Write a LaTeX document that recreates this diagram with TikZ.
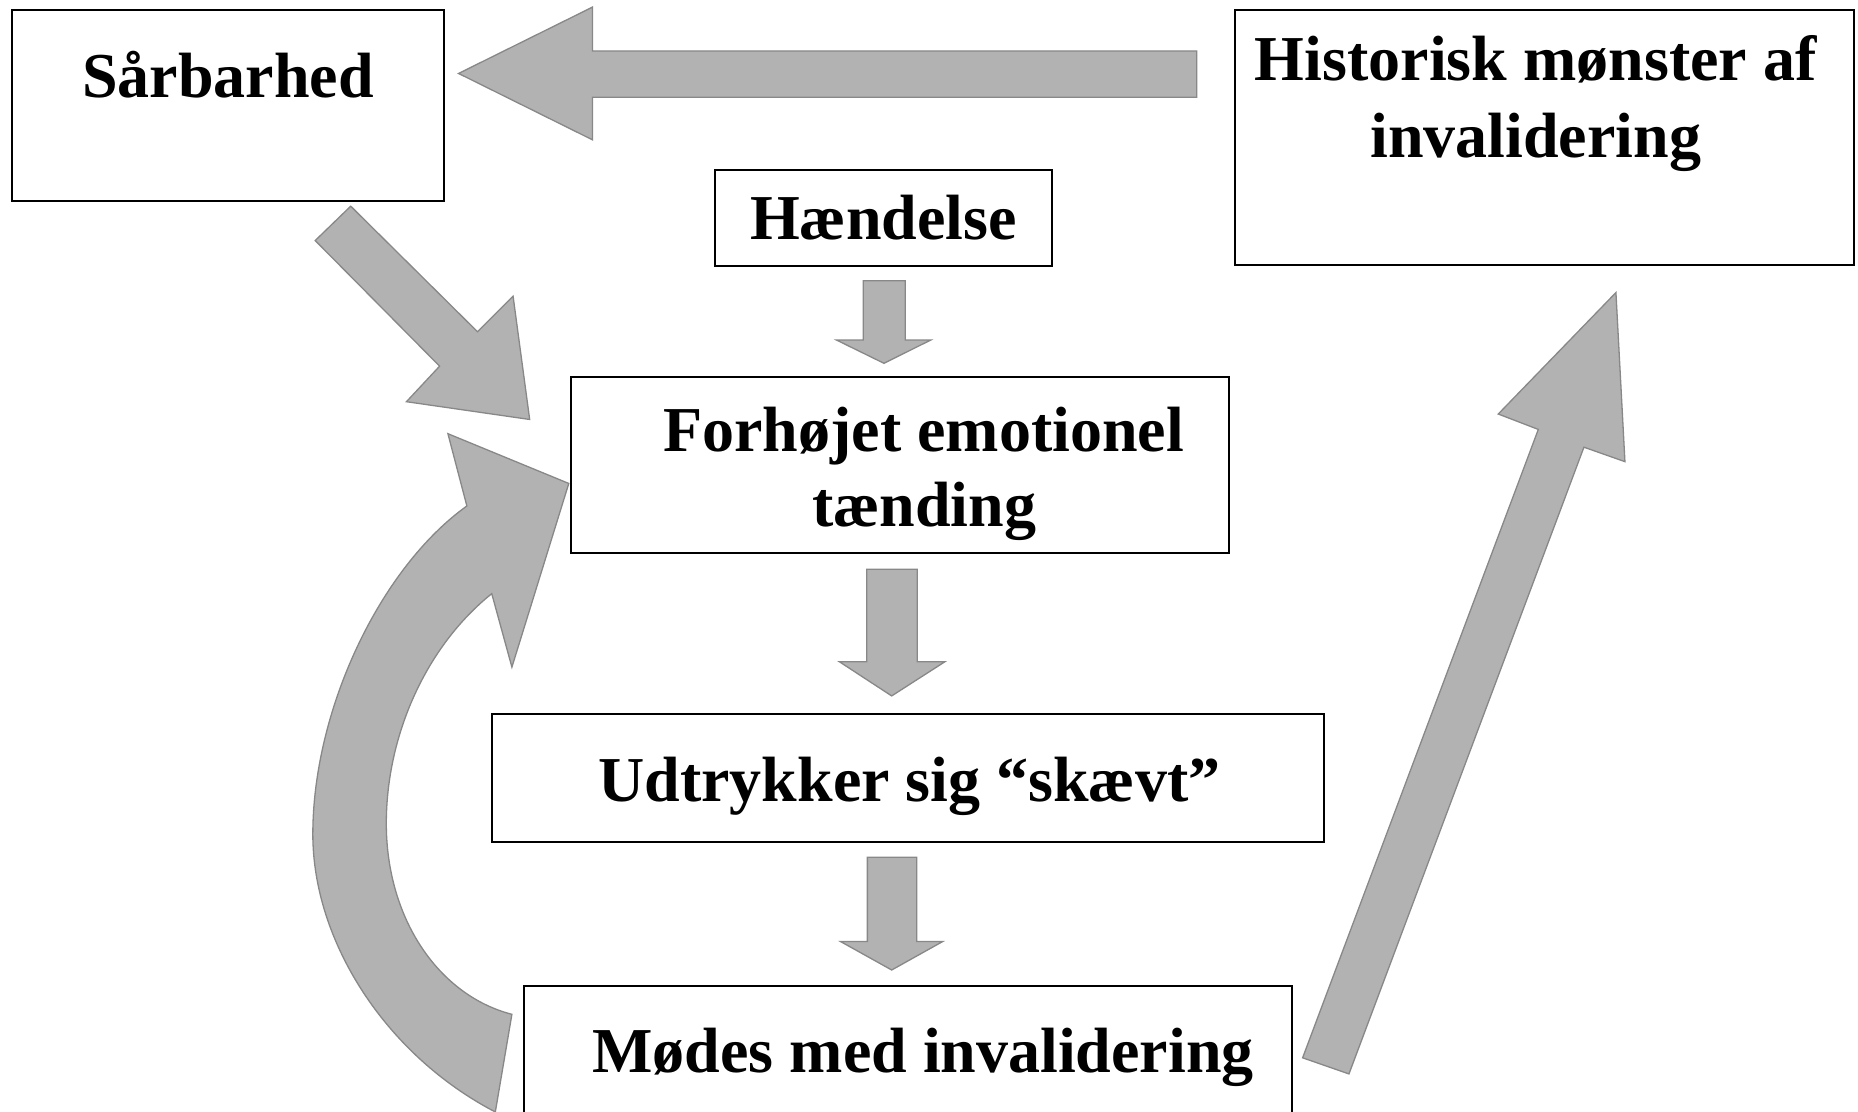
\documentclass[tikz,border=0pt]{standalone}
\usepackage{fontspec}
\setmainfont{Liberation Serif}
\definecolor{arrowfill}{HTML}{B2B2B2}
\definecolor{arrowedge}{HTML}{888888}
\begin{document}
\begin{tikzpicture}[x=1pt,y=-1pt,
  blockarrow/.style={fill=arrowfill, draw=arrowedge, line width=1.1pt, line join=miter},
  panel/.style={draw=black, line width=1.7pt, fill=white, inner sep=0pt, outer sep=0pt},
  boxtext/.style={font=\fontsize{54}{64}\selectfont\bfseries, anchor=base, inner sep=0pt}]

% canvas
\useasboundingbox (0,0) rectangle (1568,938.4);
\clip (0,0) rectangle (1568,938.4);
\fill[white] (0,0) rectangle (1568,938.4);

% ---- block arrows ----
% from "Historisk mønster af invalidering" back to "Sårbarhed"
\path[blockarrow] (1010,43) -- (500,43) -- (500,6) -- (387,62) -- (500,118) -- (500,82) -- (1010,82) -- cycle;

% from "Sårbarhed" down into the arousal box
\path[blockarrow] (296,174) -- (403,280) -- (433,250) -- (447,354) -- (343,339) -- (371,309) -- (266,203) -- cycle;

% loop from "Mødes med invalidering" back up to the arousal box
\path[blockarrow] (418,938.4) .. controls (325,890) and (264,794) .. (264,704)
  .. controls (264,600) and (320,480) .. (394,427)
  -- (378,366) -- (480,408) -- (432,563) -- (415,501)
  .. controls (360,545) and (326,620) .. (326,695)
  .. controls (326,775) and (370,840) .. (432,856) -- cycle;

% from "Mødes med invalidering" up to "Historisk mønster af invalidering"
\path[blockarrow] (1099.3,892.7) -- (1298.2,362.4) -- (1264.4,349.4) -- (1363.7,246.9)
  -- (1371.3,389.6) -- (1336.7,377.4) -- (1138.4,906.3) -- cycle;

% small downward arrows between the central boxes
\path[blockarrow] (728.5,237) -- (764,237) -- (764,287) -- (785.4,287) -- (746,306.6) -- (706,287) -- (728.5,287) -- cycle;
\path[blockarrow] (731.4,480.4) -- (774.1,480.4) -- (774.1,558.4) -- (797.5,558.4) -- (752.5,587.3) -- (708.3,558.4) -- (731.4,558.4) -- cycle;
\path[blockarrow] (732,723.5) -- (773.6,723.5) -- (773.6,794.6) -- (795.5,794.6) -- (752.5,818.6) -- (709.4,794.6) -- (732,794.6) -- cycle;

% ---- boxes ----
\node[panel, minimum width=364.6pt, minimum height=161.5pt] (sar)  at (192.3,89.25) {};
\node[panel, minimum width=523pt,   minimum height=215.2pt] (hist) at (1303.5,116) {};
\node[panel, minimum width=284.5pt, minimum height=81pt]    (hend) at (745.75,184) {};
\node[panel, minimum width=555pt,   minimum height=148.6pt] (forh) at (759.5,392.7) {};
\node[panel, minimum width=702pt,   minimum height=107.8pt] (udt)  at (766,656.4) {};
\node[panel, minimum width=648pt,   minimum height=168pt]   (mod)  at (766,916) {};

% ---- texts ----
\node[boxtext] (sarT)   at (192.5,82)   {Sårbarhed};
\node[boxtext] (histT1) at (1296,68)    {Historisk mønster af};
\node[boxtext] (histT2) at (1296,133)   {invalidering};
\node[boxtext] (hendT)  at (745.5,202.5) {Hændelse};
\node[boxtext] (forhT1) at (779.5,381)  {Forhøjet emotionel};
\node[boxtext] (forhT2) at (780,444)    {tænding};
\node[boxtext] (udtT)   at (767.5,676.5) {Udtrykker sig “skævt”};
\node[boxtext] (modT)   at (779,905.5)  {Mødes med invalidering};
\end{tikzpicture}
\end{document}
